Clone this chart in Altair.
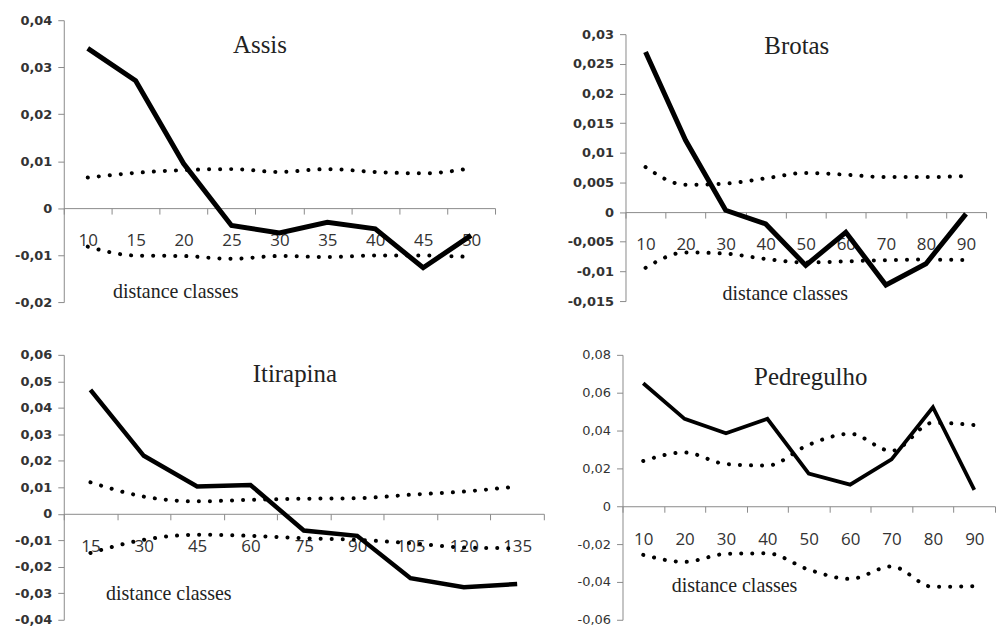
import altair as alt
import pandas as pd

# ---------------- data ----------------
assis_classes = ["10", "15", "20", "25", "30", "35", "40", "45", "50"]
assis_obs = [0.0340, 0.0271, 0.0095, -0.0037, -0.0053, -0.0030, -0.0044, -0.0127, -0.0058]
assis_up = [0.0065, 0.0075, 0.0081, 0.0083, 0.0077, 0.0083, 0.0077, 0.0074, 0.0085]
assis_lo = [-0.0082, -0.0101, -0.0102, -0.0108, -0.0102, -0.0104, -0.0101, -0.0101, -0.0104]
assis_ticks = [-0.02, -0.01, 0, 0.01, 0.02, 0.03, 0.04]

brotas_classes = ["10", "20", "30", "40", "50", "60", "70", "80", "90"]
brotas_obs = [0.0270, 0.0121, 0.0003, -0.0020, -0.0090, -0.0034, -0.0123, -0.0087, -0.0003]
brotas_up = [0.0076, 0.0046, 0.0048, 0.0057, 0.0066, 0.0063, 0.0059, 0.0059, 0.0061]
brotas_lo = [-0.0094, -0.0068, -0.0070, -0.0079, -0.0085, -0.0083, -0.0081, -0.0080, -0.0081]
brotas_ticks = [-0.015, -0.01, -0.005, 0, 0.005, 0.01, 0.015, 0.02, 0.025, 0.03]

itira_classes = ["15", "30", "45", "60", "75", "90", "105", "120", "135"]
itira_obs = [0.0468, 0.0219, 0.0103, 0.0109, -0.0063, -0.0083, -0.0243, -0.0277, -0.0265]
itira_up = [0.0119, 0.0065, 0.0047, 0.0053, 0.0057, 0.0059, 0.0072, 0.0084, 0.0103]
itira_lo = [-0.0148, -0.0098, -0.0079, -0.0083, -0.0092, -0.0098, -0.0111, -0.0127, -0.0130]
itira_ticks = [-0.04, -0.03, -0.02, -0.01, 0, 0.01, 0.02, 0.03, 0.04, 0.05, 0.06]

pedre_classes = ["10", "20", "30", "40", "50", "60", "70", "80", "90"]
pedre_obs = [0.0650, 0.0462, 0.0386, 0.0462, 0.0172, 0.0114, 0.0248, 0.0523, 0.0086]
pedre_up = [0.0239, 0.0284, 0.0223, 0.0215, 0.0325, 0.0383, 0.0292, 0.0441, 0.0429]
pedre_lo = [-0.0257, -0.0294, -0.0252, -0.0249, -0.0335, -0.0384, -0.0318, -0.0426, -0.0422]
pedre_ticks = [-0.06, -0.04, -0.02, 0, 0.02, 0.04, 0.06, 0.08]

LABEL_EXPR = "replace(replace(format(datum.value, '~g'), '.', ','), '\u2212', '-')"
AXIS_GREY = "#8a8a8a"
TEXT = "#222222"
TITLE_SIZE = 25


def panel(name, classes, obs, up, lo, yticks, width, height, extent,
          title_dx, title_offset, xt_x, xt_y, ylab_size, ylab_weight, solid_w):
    rows = []
    for c, o, u, l in zip(classes, obs, up, lo):
        rows.append({"cls": c, "series": "observed", "v": o})
        rows.append({"cls": c, "series": "upper", "v": u})
        rows.append({"cls": c, "series": "lower", "v": l})
    df = pd.DataFrame(rows)
    ymin, ymax = yticks[0], yticks[-1]
    offset = -height * (0 - ymin) / (ymax - ymin)

    xaxis = alt.Axis(
        orient="bottom", offset=offset, tickBand="extent", labelAngle=0,
        domainColor=AXIS_GREY, tickColor=AXIS_GREY, tickSize=6,
        labelFont="Open Sans", labelFontSize=17, labelColor="#333333",
        labelBaseline="middle", labelPadding=27,
        title="distance classes", titleX=xt_x, titleY=xt_y,
        titleAlign="center", titleBaseline="alphabetic",
        titleFont="Liberation Serif", titleFontSize=20,
        titleFontWeight="normal", titleColor=TEXT,
    )
    yaxis = alt.Axis(
        values=yticks, labelExpr=LABEL_EXPR, grid=False, title=None,
        domainColor=AXIS_GREY, tickColor=AXIS_GREY, tickSize=6,
        labelPadding=6, labelFont="DejaVu Sans", labelFontSize=ylab_size,
        labelFontWeight=ylab_weight, labelColor="#333333",
        minExtent=extent, maxExtent=extent,
    )

    base = alt.Chart(df).encode(
        x=alt.X("cls:N", sort=classes,
                scale=alt.Scale(paddingInner=0, paddingOuter=0), axis=xaxis),
        y=alt.Y("v:Q", scale=alt.Scale(domain=[ymin, ymax], nice=False, zero=False),
                axis=yaxis),
    )
    dotted = base.transform_filter(alt.datum.series != "observed").mark_line(
        color="black", strokeWidth=4, strokeDash=[0.1, 11], strokeCap="round",
        interpolate="monotone",
    ).encode(detail="series:N")
    solid = base.transform_filter(alt.datum.series == "observed").mark_line(
        color="black", strokeWidth=solid_w,
    )
    return alt.layer(dotted, solid).properties(
        width=width, height=height,
        title=alt.TitleParams(
            text=name, frame="group", anchor="start", align="center",
            dx=title_dx, offset=title_offset, baseline="alphabetic",
            font="Liberation Serif", fontSize=TITLE_SIZE, fontWeight="normal",
            color=TEXT,
        ),
    )


assis = panel("Assis", assis_classes, assis_obs, assis_up, assis_lo, assis_ticks,
              433, 283, 53, 197, -64, 112, 90, 13, "bold", 5)
brotas = panel("Brotas", brotas_classes, brotas_obs, brotas_up, brotas_lo, brotas_ticks,
               362, 268, 60, 172, -51, 160, 88, 13, "bold", 5)
itira = panel("Itirapina", itira_classes, itira_obs, itira_up, itira_lo, itira_ticks,
              482, 266, 51, 232, -58, 105, 86, 13, "bold", 4.5)
pedre = panel("Pedregulho", pedre_classes, pedre_obs, pedre_up, pedre_lo, pedre_ticks,
              374, 266, 60, 189, -61, 112, 86, 13, "normal", 3.8)

# invisible spacer that lowers the Brotas panel a little, as in the reference
spacer_df = pd.DataFrame({"s": [0]})
spacer = alt.Chart(spacer_df).mark_point(size=0, opacity=0, strokeWidth=0).encode(
    x=alt.value(0), y=alt.value(0)
).properties(width=1, height=6)

row1 = alt.hconcat(assis, alt.vconcat(spacer, brotas, spacing=0), spacing=69)
row2 = alt.hconcat(itira, pedre, spacing=17)

chart = alt.vconcat(row1, row2, spacing=38).properties(
    padding={"left": 2, "top": 4, "right": 0, "bottom": 0},
    background="white",
).configure_view(stroke="transparent")

chart.save("out.html", embed_options={"renderer": "svg", "actions": False})
